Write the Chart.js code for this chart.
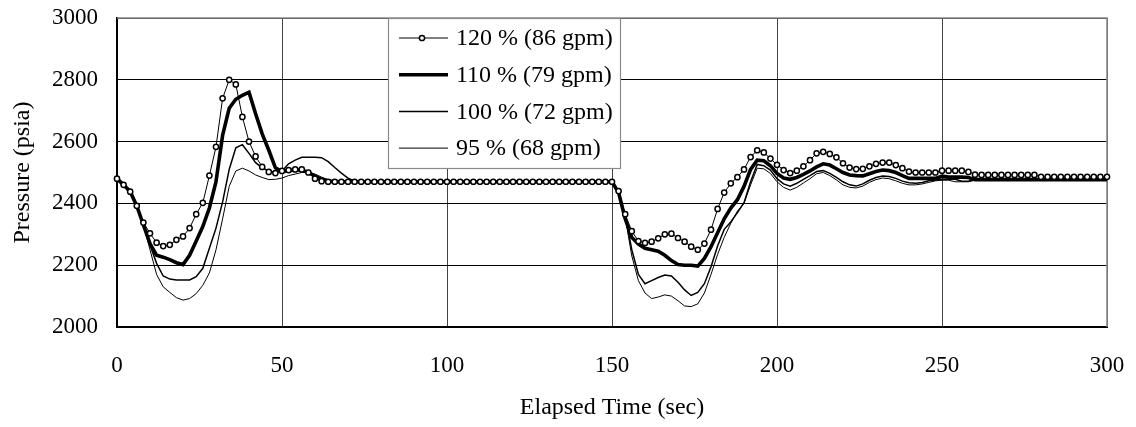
<!DOCTYPE html>
<html>
<head>
<meta charset="utf-8">
<script src="https://cdn.jsdelivr.net/npm/chart.js@4.4.1/dist/chart.umd.min.js"></script>
<style>
  html, body { margin: 0; padding: 0; background: #fff; }
  #wrap { width: 1136px; height: 427px; }
</style>
</head>
<body>
<div id="wrap"><canvas id="chart" width="1136" height="427"></canvas></div>
<script>
// elapsed time (sec), one row = 20 s
const times = [
  0, 2, 4, 6, 8, 10, 12, 14, 16, 18,
  20, 22, 24, 26, 28, 30, 32, 34, 36, 38,
  40, 42, 44, 46, 48, 50, 52, 54, 56, 58,
  60, 62, 64, 66, 68, 70, 72, 74, 76, 78,
  80, 82, 84, 86, 88, 90, 92, 94, 96, 98,
  100, 102, 104, 106, 108, 110, 112, 114, 116, 118,
  120, 122, 124, 126, 128, 130, 132, 134, 136, 138,
  140, 142, 144, 146, 148, 150, 152, 154, 156, 158,
  160, 162, 164, 166, 168, 170, 172, 174, 176, 178,
  180, 182, 184, 186, 188, 190, 192, 194, 196, 198,
  200, 202, 204, 206, 208, 210, 212, 214, 216, 218,
  220, 222, 224, 226, 228, 230, 232, 234, 236, 238,
  240, 242, 244, 246, 248, 250, 252, 254, 256, 258,
  260, 262, 264, 266, 268, 270, 272, 274, 276, 278,
  280, 282, 284, 286, 288, 290, 292, 294, 296, 298,
  300
];

// pressure (psia)
const p120 = [
  2480, 2460, 2438, 2392, 2338, 2303, 2273, 2262, 2266, 2282,
  2293, 2320, 2365, 2402, 2490, 2583, 2740, 2800, 2785, 2680,
  2600, 2552, 2518, 2502, 2498, 2505, 2508, 2510, 2510, 2500,
  2480, 2472, 2470, 2470, 2470, 2470, 2470, 2470, 2470, 2470,
  2470, 2470, 2470, 2470, 2470, 2470, 2470, 2470, 2470, 2470,
  2470, 2470, 2470, 2470, 2470, 2470, 2470, 2470, 2470, 2470,
  2470, 2470, 2470, 2470, 2470, 2470, 2470, 2470, 2470, 2470,
  2470, 2470, 2470, 2470, 2470, 2470, 2440, 2365, 2310, 2278,
  2272, 2276, 2287, 2300, 2302, 2288, 2276, 2260, 2250, 2270,
  2315, 2382, 2435, 2465, 2485, 2510, 2550, 2572, 2565, 2545,
  2525, 2508, 2498, 2506, 2520, 2540, 2562, 2567, 2560, 2549,
  2530, 2516, 2511, 2512, 2520, 2528, 2532, 2532, 2524, 2514,
  2503, 2500, 2500, 2500, 2500, 2506, 2506, 2506, 2506, 2502,
  2493, 2492, 2492, 2492, 2492, 2492, 2492, 2492, 2492, 2492,
  2486, 2486, 2486, 2486, 2486, 2486, 2486, 2486, 2486, 2486,
  2486
];
const p110 = [
  2480, 2460, 2438, 2392, 2330, 2270, 2232, 2226, 2218, 2208,
  2202, 2232, 2278, 2325, 2385, 2470, 2620, 2708, 2737, 2750,
  2760, 2690, 2625, 2572, 2515, 2503, 2506, 2508, 2508, 2500,
  2488, 2478, 2472, 2470, 2470, 2470, 2470, 2470, 2470, 2470,
  2470, 2470, 2470, 2470, 2470, 2470, 2470, 2470, 2470, 2470,
  2470, 2470, 2470, 2470, 2470, 2470, 2470, 2470, 2470, 2470,
  2470, 2470, 2470, 2470, 2470, 2470, 2470, 2470, 2470, 2470,
  2470, 2470, 2470, 2470, 2470, 2470, 2435, 2350, 2290, 2268,
  2255, 2250, 2245, 2232, 2215, 2202, 2200, 2200, 2197, 2222,
  2260, 2305, 2350, 2385, 2412, 2455, 2510, 2540, 2538, 2522,
  2497, 2482, 2478, 2484, 2494, 2505, 2518, 2528, 2524, 2512,
  2500, 2492, 2490, 2489, 2496, 2503, 2508, 2506, 2500, 2490,
  2481, 2481, 2481, 2481, 2481, 2488, 2485, 2485, 2485, 2484,
  2477, 2477, 2477, 2477, 2477, 2477, 2477, 2477, 2477, 2477,
  2477, 2477, 2477, 2477, 2477, 2477, 2477, 2477, 2477, 2477,
  2477
];
const p100 = [
  2480, 2460, 2438, 2392, 2330, 2265, 2206, 2165, 2155, 2152,
  2152, 2152, 2163, 2190, 2255, 2320, 2405, 2510, 2580, 2590,
  2562, 2532, 2515, 2505, 2500, 2505, 2528, 2540, 2549, 2549,
  2549, 2548, 2535, 2516, 2498, 2482, 2472, 2470, 2470, 2470,
  2470, 2470, 2470, 2470, 2470, 2470, 2470, 2470, 2470, 2470,
  2470, 2470, 2470, 2470, 2470, 2470, 2470, 2470, 2470, 2470,
  2470, 2470, 2470, 2470, 2470, 2470, 2470, 2470, 2470, 2470,
  2470, 2470, 2470, 2470, 2470, 2470, 2440, 2360, 2250, 2170,
  2140, 2150, 2160, 2168, 2165, 2145, 2120, 2102, 2112, 2140,
  2195, 2262, 2316, 2340, 2370, 2402, 2470, 2526, 2522, 2508,
  2480, 2463, 2456, 2465, 2478, 2490, 2503, 2506, 2497, 2484,
  2470, 2460, 2456, 2463, 2475, 2484, 2489, 2487, 2481, 2472,
  2467, 2465, 2468, 2473, 2476, 2478, 2478, 2478, 2472, 2472,
  2478, 2478, 2478, 2478, 2478, 2478, 2478, 2478, 2478, 2478,
  2478, 2478, 2478, 2478, 2478, 2478, 2478, 2478, 2478, 2478,
  2478
];
const p95 = [
  2480, 2460, 2438, 2392, 2330, 2250, 2170, 2130, 2112, 2095,
  2087, 2092, 2108, 2135, 2175, 2250, 2350, 2455, 2505, 2514,
  2505, 2492, 2484, 2477, 2478, 2482, 2490, 2495, 2500, 2500,
  2495, 2485, 2477, 2472, 2470, 2470, 2470, 2470, 2470, 2470,
  2470, 2470, 2470, 2470, 2470, 2470, 2470, 2470, 2470, 2470,
  2470, 2470, 2470, 2470, 2470, 2470, 2470, 2470, 2470, 2470,
  2470, 2470, 2470, 2470, 2470, 2470, 2470, 2470, 2470, 2470,
  2470, 2470, 2470, 2470, 2470, 2470, 2440, 2355, 2230, 2150,
  2110, 2092, 2097, 2104, 2100, 2085, 2068, 2066, 2075, 2110,
  2170, 2235, 2290, 2336, 2375, 2400, 2460, 2514, 2512, 2497,
  2470, 2452, 2443, 2452, 2466, 2480, 2496, 2500, 2490, 2476,
  2460, 2452, 2450, 2456, 2468, 2477, 2482, 2480, 2473, 2465,
  2460, 2460, 2463, 2468, 2473, 2475, 2475, 2470, 2470, 2470,
  2475, 2475, 2475, 2475, 2475, 2475, 2475, 2475, 2475, 2475,
  2475, 2475, 2475, 2475, 2475, 2475, 2475, 2475, 2475, 2475,
  2475
];

const seriesLabels = ['120 % (86 gpm)', '110 % (79 gpm)', '100 % (72 gpm)', '95 % (68 gpm)'];

const serif = "'Liberation Serif', 'Times New Roman', serif";

function pts(vals) {
  return times.map((t, i) => ({ x: t, y: vals[i] }));
}

// gray frame on top / right side of the plot area, like excel
const frame = {
  id: 'frame',
  beforeDatasetsDraw(chart) {
    const { ctx } = chart;
    const { left, right, top, bottom } = chart.chartArea;
    ctx.save();
    ctx.strokeStyle = '#8a8a8a';
    ctx.lineWidth = 1.6;
    ctx.beginPath();
    ctx.moveTo(left, top);
    ctx.lineTo(right, top);
    ctx.lineTo(right, bottom);
    ctx.stroke();
    ctx.restore();
  }
};

// boxed legend sitting inside the plot
const boxLegend = {
  id: 'boxLegend',
  afterDraw(chart) {
    const { ctx } = chart;
    const x0 = 388, y0 = 18, w = 232, h = 150;
    ctx.save();
    ctx.fillStyle = '#fff';
    ctx.fillRect(x0, y0, w, h);
    ctx.strokeStyle = '#8a8a8a';
    ctx.lineWidth = 1.2;
    ctx.strokeRect(x0 + 0.5, y0 + 0.5, w, h);
    ctx.font = '24px ' + serif;
    ctx.textBaseline = 'middle';
    ctx.textAlign = 'left';
    chart.data.datasets.forEach((ds, i) => {
      const y = y0 + 20 + i * 36.7;
      ctx.strokeStyle = '#000';
      ctx.lineWidth = ds.borderWidth;
      ctx.beginPath();
      ctx.moveTo(x0 + 11, y);
      ctx.lineTo(x0 + 60, y);
      ctx.stroke();
      if (ds.pointRadius > 0) {
        ctx.beginPath();
        ctx.arc(x0 + 34, y, ds.pointRadius, 0, Math.PI * 2);
        ctx.fillStyle = '#fff';
        ctx.fill();
        ctx.lineWidth = ds.pointBorderWidth;
        ctx.stroke();
      }
      ctx.fillStyle = '#000';
      ctx.fillText(ds.label, x0 + 68, y + 1);
    });
    ctx.restore();
  }
};

new Chart(document.getElementById('chart'), {
  type: 'line',
  data: {
    datasets: [
      {
        label: seriesLabels[0], data: pts(p120),
        borderColor: '#000', borderWidth: 1,
        pointRadius: 2.6, pointBorderWidth: 1.5,
        pointBackgroundColor: '#fff', pointBorderColor: '#000',
        clip: false
      },
      {
        label: seriesLabels[1], data: pts(p110),
        borderColor: '#000', borderWidth: 3.6, pointRadius: 0
      },
      {
        label: seriesLabels[2], data: pts(p100),
        borderColor: '#000', borderWidth: 1.5, pointRadius: 0
      },
      {
        label: seriesLabels[3], data: pts(p95),
        borderColor: '#000', borderWidth: 1, pointRadius: 0
      }
    ]
  },
  options: {
    responsive: false,
    animation: false,
    devicePixelRatio: 1,
    tension: 0,
    layout: { padding: { top: 18, right: 29, bottom: 0, left: 0 } },
    plugins: {
      legend: { display: false },
      tooltip: { enabled: false }
    },
    scales: {
      x: {
        type: 'linear', min: 0, max: 300,
        afterFit(scale) { scale.height = 100; },
        // spacing done with an invisible tick mark, tick padding would shrink the plot
        ticks: { stepSize: 50, padding: 0, color: '#000', font: { family: serif, size: 23 } },
        grid: { color: '#444', lineWidth: 1, drawTicks: true, tickLength: 25, tickColor: 'rgba(0,0,0,0)' },
        border: { color: '#000', width: 2 },
        title: {
          display: true, text: 'Elapsed Time (sec)', color: '#000',
          font: { family: serif, size: 24 }, padding: { top: 0, bottom: 5 }
        }
      },
      y: {
        min: 2000, max: 3000,
        afterFit(scale) { scale.width = 117; },
        ticks: {
          stepSize: 200, padding: 0, color: '#000', font: { family: serif, size: 23 },
          callback: (v) => String(v)
        },
        grid: { color: '#000', lineWidth: 1, drawTicks: true, tickLength: 19, tickColor: 'rgba(0,0,0,0)' },
        border: { color: '#000', width: 2 },
        title: {
          display: true, text: 'Pressure (psia)', color: '#000',
          font: { family: serif, size: 24 }, padding: { top: 8, bottom: 0 }
        }
      }
    }
  },
  plugins: [frame, boxLegend]
});
</script>
</body>
</html>
